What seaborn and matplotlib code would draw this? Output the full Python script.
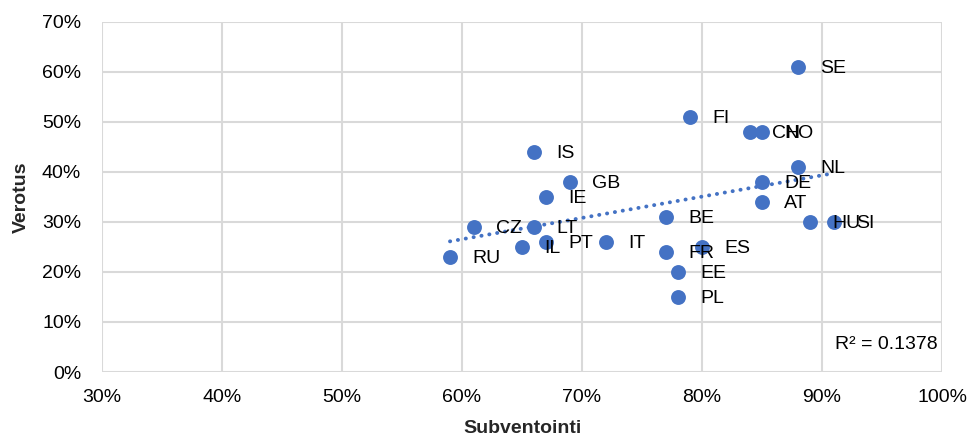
import matplotlib
matplotlib.use("Agg")
import matplotlib.pyplot as plt
import seaborn as sns
import pandas as pd
from matplotlib.ticker import PercentFormatter

countries = ["SE", "FI", "CH", "NO", "NL", "DE", "AT", "HU", "SI", "BE", "FR", "ES",
             "EE", "PL", "IT", "PT", "IL", "LT", "CZ", "RU", "IE", "GB", "IS"]
subventointi = [88, 79, 84, 85, 88, 85, 85, 89, 91, 77, 77, 80,
                78, 78, 72, 67, 65, 66, 61, 59, 67, 69, 66]
verotus = [61, 51, 48, 48, 41, 38, 34, 30, 30, 31, 24, 25,
           20, 15, 26, 26, 25, 29, 29, 23, 35, 38, 44]
r2_text = "R² = 0.1378"

df = pd.DataFrame({"Maa": countries, "Subventointi": subventointi, "Verotus": verotus})

sns.set_theme(style="white")
plt.rcParams["font.family"] = ["Liberation Sans", "DejaVu Sans"]

fig = plt.figure(figsize=(9.67, 4.44), dpi=100)
ax = fig.add_axes([102 / 967, 1 - 372 / 444, (942 - 102) / 967, (372 - 22) / 444])

blue = "#4472C4"
sns.regplot(data=df, x="Subventointi", y="Verotus", ax=ax, ci=None, scatter=False,
            line_kws=dict(color=blue, linestyle=(0, (0.05, 2.0)), linewidth=2.8,
                          dash_capstyle="round"))
sns.scatterplot(data=df, x="Subventointi", y="Verotus", ax=ax, color=blue, s=115,
                edgecolor=blue, linewidth=0, zorder=3)

for c, x, y in zip(countries, subventointi, verotus):
    ax.annotate(c, (x, y), xytext=(16, -1), textcoords="offset points",
                va="center", ha="left", fontsize=14, color="#000000", zorder=4)

ax.set_xlim(30, 100)
ax.set_ylim(0, 70)
ax.set_xticks(range(30, 101, 10))
ax.set_yticks(range(0, 71, 10))
ax.xaxis.set_major_formatter(PercentFormatter(decimals=0))
ax.yaxis.set_major_formatter(PercentFormatter(decimals=0))
ax.grid(True, color="#d9d9d9", linewidth=1.5)
ax.set_axisbelow(True)
for sp in ax.spines.values():
    sp.set_visible(False)
ax.tick_params(axis="y", labelsize=14, length=0, pad=15, colors="#000000")
ax.tick_params(axis="x", labelsize=14, length=0, pad=12, colors="#000000")

ax.set_xlabel("Subventointi", fontsize=14, fontweight="bold", labelpad=10)
ax.set_ylabel("Verotus", fontsize=14, fontweight="bold", labelpad=9)

ax.text(0.995, 0.08, r2_text, transform=ax.transAxes, ha="right", va="center",
        fontsize=14, color="#000000")

fig.savefig("out.png", dpi=100)
